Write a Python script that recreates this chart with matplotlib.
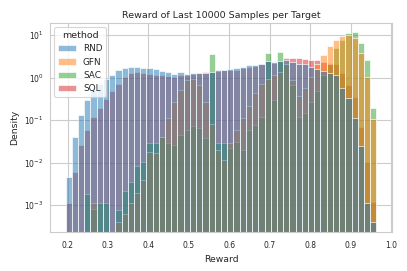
import numpy as np
import matplotlib
matplotlib.use("Agg")
import matplotlib.pyplot as plt
import seaborn as sns
from matplotlib.patches import Patch

# ---- data (densities per bin) ----
reward_min = 0.195
reward_max = 0.964
n_bins = 50

methods = ["RND", "GFN", "SAC", "SQL"]

rnd = [0.0047, 0.041, 0.135, 0.30, 0.51, 0.72, 0.95, 1.15, 1.51, 1.66,
       1.78, 1.78, 1.70, 1.70, 1.55, 1.41, 1.32, 1.20, 1.32, 1.20,
       1.26, 1.26, 1.26, 1.38, 1.48, 1.51, 1.55, 1.66, 1.78, 1.95,
       1.95, 2.14, 2.45, 2.34, 2.45, 2.57, 2.34, 2.14, 2.04, 1.78,
       1.55, 1.41, 1.26, 1.15, 0.56, 0.34, 0.11, 0.025, 0.0011, 0.00041]

gfn = [0, 0, 0, 0, 0.00115, 0, 0, 0, 0.00041, 0.00063,
       0.0011, 0.0019, 0.004, 0.018, 0.017, 0.041, 0.11, 0.27, 0.52, 0.87,
       0.95, 0.66, 0.27, 0.083, 0.0195, 0.0117, 0.0295, 0.058, 0.11, 0.22,
       0.44, 0.72, 0.95, 1.15, 1.38, 2.04, 0.87, 0.36, 0.56, 1.05,
       2.04, 3.39, 5.5, 7.6, 9.5, 10.0, 8.3, 3.8, 1.05, 0.105]

sac = [0, 0, 0, 0.00186, 0.0008, 0.00115, 0.00115, 0, 0.00076, 0.0022,
       0.0036, 0.0083, 0.0105, 0.0295, 0.0295, 0.041, 0.0295, 0.026, 0.045, 0.058,
       0.072, 0.066, 0.039, 3.55, 0.0295, 0.0295, 0.022, 0.031, 0.0195, 0.058,
       0.076, 0.12, 3.7, 0.30, 3.9, 2.14, 0.66, 0.12, 0.15, 0.27,
       0.48, 1.12, 2.14, 4.9, 7.6, 11.2, 11.7, 6.6, 2.57, 0.19]

sql = [0.0011, 0.006, 0.026, 0.058, 0.12, 0.19, 0.32, 0.48, 0.72, 1.05,
       1.26, 1.32, 1.29, 1.23, 1.17, 1.15, 1.10, 1.05, 1.15, 1.15,
       1.20, 1.26, 1.32, 1.38, 1.45, 1.48, 1.48, 1.51, 1.66, 1.78,
       1.86, 2.04, 2.40, 2.24, 2.45, 2.82, 2.82, 2.82, 2.69, 2.57,
       2.57, 2.34, 2.24, 2.14, 1.26, 0.66, 0.35, 0.069, 0.0105, 0.0012]

series = {"RND": rnd, "GFN": gfn, "SAC": sac, "SQL": sql}

# ---- style ----
sns.set_style("whitegrid")
plt.rcParams["font.family"] = ["DejaVu Sans"]
text_color = "#262626"

palette = sns.color_palette("tab10", 4)
colors = dict(zip(methods, palette))
alpha = 0.5

fig = plt.figure(figsize=(4.07, 2.71), dpi=100)
ax = fig.add_axes([50 / 407, 1 - 232 / 271, 342 / 407, (232 - 22.7) / 271])

edges = np.linspace(reward_min, reward_max, n_bins + 1)
width = edges[1] - edges[0]

# seaborn draws hue levels in reverse order
for m in reversed(methods):
    vals = np.asarray(series[m], dtype=float)
    mask = vals > 0
    ax.bar(edges[:-1][mask], vals[mask], width=width, align="edge",
           facecolor=(*colors[m], alpha), edgecolor="white", linewidth=0.45)

ax.set_yscale("log")
span = reward_max - reward_min
ax.set_xlim(reward_min - 0.05 * span, reward_max + 0.05 * span)
ax.set_ylim(10 ** -3.63, 10 ** 1.29)
ax.set_xticks([0.2, 0.3, 0.4, 0.5, 0.6, 0.7, 0.8, 0.9, 1.0])
ax.set_yticks([1e-3, 1e-2, 1e-1, 1e0, 1e1])
ax.minorticks_off()

ax.tick_params(axis="x", length=0, pad=6.3, labelsize=5.5, labelcolor=text_color)
ax.tick_params(axis="y", length=0, pad=4.6, labelsize=5.5, labelcolor=text_color)
ax.set_xlabel("Reward", fontsize=6.7, color=text_color, labelpad=3.5)
ax.set_ylabel("Density", fontsize=6.7, color=text_color, labelpad=4)
ax.set_title("Reward of Last 10000 Samples per Target", fontsize=6.8,
             color=text_color, pad=3.2)

ax.grid(True, color="#cccccc", linewidth=0.8)
for sp in ax.spines.values():
    sp.set_color("#cccccc")
    sp.set_linewidth(0.8)
ax.set_axisbelow(True)

handles = [Patch(facecolor=(*colors[m], alpha), edgecolor="white", linewidth=0.45)
           for m in methods]
leg = ax.legend(handles, methods, title="method", loc="upper left",
                fontsize=6.4, title_fontsize=6.8, frameon=True)
leg.get_frame().set_edgecolor("#cccccc")
leg.get_frame().set_linewidth(0.8)
for t in leg.get_texts():
    t.set_color(text_color)
leg.get_title().set_color(text_color)

fig.savefig("out.png", dpi=100)
